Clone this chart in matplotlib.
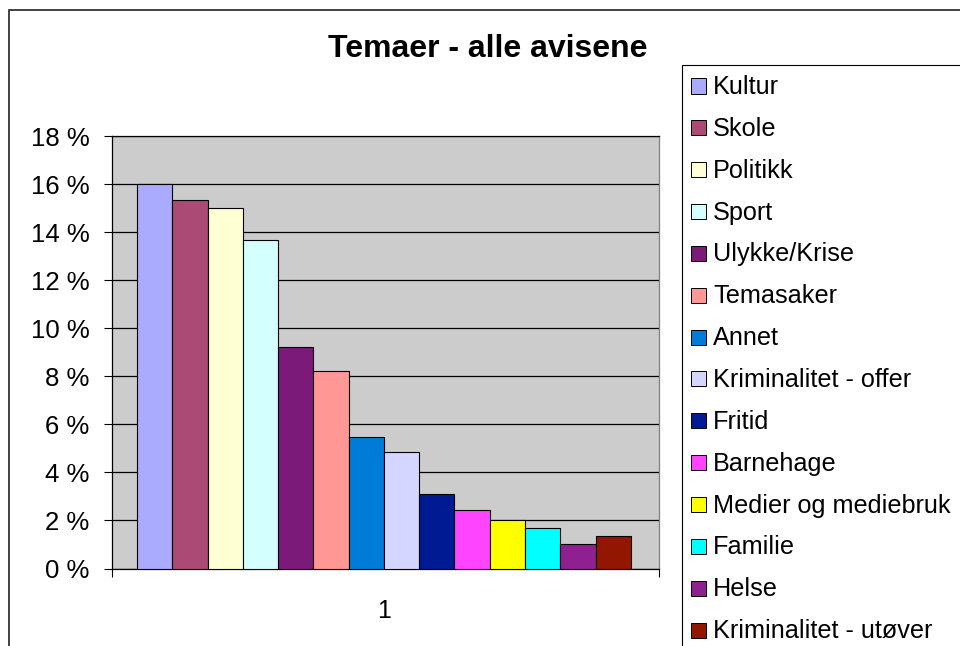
import matplotlib
matplotlib.use("Agg")
import matplotlib.pyplot as plt
import numpy as np
from matplotlib.patches import Rectangle
from matplotlib.ticker import FuncFormatter, MultipleLocator

plt.rcParams['font.family'] = ['Liberation Sans', 'DejaVu Sans']

title = "Temaer - alle avisene"
categories = ["Kultur", "Skole", "Politikk", "Sport", "Ulykke/Krise", "Temasaker",
              "Annet", "Kriminalitet - offer", "Fritid", "Barnehage",
              "Medier og mediebruk", "Familie", "Helse", "Kriminalitet - utøver"]
values = [16.0, 15.35, 15.0, 13.68, 9.2, 8.22, 5.48, 4.83, 3.09, 2.42, 2.0, 1.67, 1.0, 1.34]
colors = ["#AAAAFF", "#AA4A75", "#FFFFD4", "#D4FFFF", "#7B1A78", "#FF9894",
          "#007CD8", "#D4D6FF", "#001A94", "#FF44FF", "#FFFF00", "#00FFFF",
          "#8E2090", "#921600"]
x_label = "1"

W, H = 960, 646
fig = plt.figure(figsize=(W / 100, H / 100), dpi=100)

def fx(px):
    return px / W

def fy(py):
    return 1 - py / H

# outer chart frame (extends beyond the image on right/bottom)
fig.patches.append(Rectangle((fx(9), fy(700)), fx(1200), fy(10) - fy(700),
                             transform=fig.transFigure, fill=False,
                             edgecolor="#222222", linewidth=1.2))

left, right, top, bottom = 111.7, 659, 136, 568.5
ax = fig.add_axes([fx(left), fy(bottom), fx(right) - fx(left), fy(top) - fy(bottom)])
ax.set_facecolor("#CCCCCC")

n = len(values)
xs = np.arange(n)
ax.bar(xs, values, width=1.0, color=colors, edgecolor="black", linewidth=0.8, zorder=3)

ax.set_xlim(-1.22, n - 1 + 1.30)
ax.set_ylim(0, 18)
ax.yaxis.set_major_locator(MultipleLocator(2))
ax.yaxis.set_major_formatter(FuncFormatter(lambda v, p: f"{int(round(v))} %"))
ax.grid(axis="y", color="black", linewidth=0.9, zorder=1)
ax.set_axisbelow(True)

ax.set_xticks([ax.get_xlim()[0], ax.get_xlim()[1]])
ax.set_xticklabels([])
ax.set_xticks([(n - 1) / 2], minor=True)
ax.set_xticklabels([x_label], minor=True, fontsize=18)
ax.tick_params(axis="x", which="major", direction="out", length=6, width=0.8)
ax.tick_params(axis="x", which="minor", length=0, pad=22)
ax.tick_params(axis="y", direction="out", length=6, width=0.8, labelsize=18.5, pad=10)

for s in ["left", "bottom"]:
    ax.spines[s].set_color("black")
    ax.spines[s].set_linewidth(0.9)
ax.spines["top"].set_color("black")
ax.spines["top"].set_linewidth(0.9)
ax.spines["right"].set_color("#808080")
ax.spines["right"].set_linewidth(0.9)

# title
fig.text(fx(488), fy(49), title, ha="center", va="center",
         fontsize=23, fontweight="bold")

# legend (box extends beyond the image)
fig.patches.append(Rectangle((fx(682), fy(700)), fx(600), fy(64.5) - fy(700),
                             transform=fig.transFigure, fill=False,
                             edgecolor="black", linewidth=0.8))
row0, step = 86.0, 41.85
for i, (lab, col) in enumerate(zip(categories, colors)):
    cy = row0 + i * step
    fig.patches.append(Rectangle((fx(690.5), fy(cy + 7.5)), fx(15), fy(cy - 7.5) - fy(cy + 7.5),
                                 transform=fig.transFigure, facecolor=col,
                                 edgecolor="black", linewidth=0.7))
    fig.text(fx(713), fy(cy + 8), lab, ha="left", va="baseline", fontsize=18.2)

fig.savefig("out.png", dpi=100)
